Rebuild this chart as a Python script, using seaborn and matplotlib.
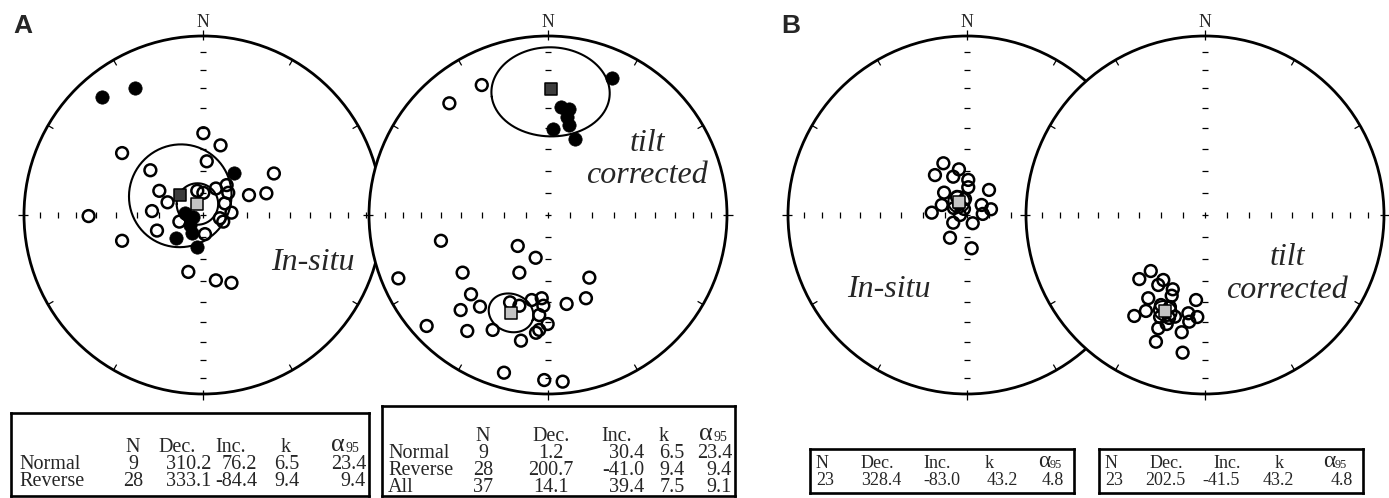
import numpy as np
import matplotlib
matplotlib.use("Agg")
import matplotlib.pyplot as plt
from matplotlib.patches import Circle
import seaborn as sns

sns.set_theme(style="white")
plt.rcParams['font.family'] = ['Liberation Serif', 'DejaVu Serif']

# ---------------- data: site directions, equal-area projection (east, north) on unit net
a_insitu_rev_e = [0.002, 0.098, -0.452, 0.021, -0.294, 0.396, 0.132, 0.072, -0.244, -0.032, 0.002, 0.141, 0.257, 0.354,
                  -0.198, 0.122, -0.285, 0.159, 0.094, 0.113, -0.132, -0.257, 0.011, -0.452, -0.082, 0.072, 0.159, -0.639]
a_insitu_rev_n = [0.457, 0.389, 0.346, 0.300, 0.250, 0.232, 0.167, 0.148, 0.135, 0.135, 0.124, 0.124, 0.111, 0.121,
                  0.071, 0.065, 0.022, 0.013, -0.018, -0.037, -0.037, -0.087, -0.107, -0.144, -0.318, -0.365, -0.379, -0.006]
a_insitu_nor_e = [-0.563, -0.378, 0.172, -0.100, -0.054, -0.072, -0.063, -0.150, -0.032]
a_insitu_nor_n = [0.661, 0.709, 0.232, 0.013, -0.009, -0.056, -0.102, -0.126, -0.179]

a_tilt_nor_e = [0.356, 0.073, 0.119, 0.104, 0.117, 0.030, 0.151]
a_tilt_nor_n = [0.767, 0.605, 0.591, 0.549, 0.503, 0.479, 0.423]
a_tilt_rev_e = [-0.370, -0.551, -0.598, -0.169, -0.069, -0.836, -0.477, -0.160, 0.231, -0.430, -0.380, -0.488, -0.212,
                -0.160, -0.091, -0.035, -0.026, -0.049, 0.104, 0.212, -0.678, -0.451, -0.309, -0.002, -0.049, -0.067,
                -0.151, -0.246, -0.021, 0.082]
a_tilt_rev_n = [0.726, 0.624, -0.144, -0.173, -0.239, -0.354, -0.322, -0.322, -0.350, -0.443, -0.512, -0.531, -0.488,
                -0.507, -0.475, -0.465, -0.507, -0.559, -0.497, -0.465, -0.620, -0.648, -0.642, -0.609, -0.642, -0.658,
                -0.702, -0.881, -0.922, -0.931]

b_insitu_e = [-0.132, -0.045, -0.179, -0.077, 0.007, 0.007, 0.123, -0.128, -0.141, 0.082, 0.134, -0.197, 0.088, -0.039,
              -0.077, 0.032, -0.095, 0.026, -0.056, -0.011, -0.073, -0.017, -0.045]
b_insitu_n = [0.289, 0.255, 0.223, 0.214, 0.196, 0.155, 0.140, 0.125, 0.056, 0.056, 0.032, 0.013, 0.006, 0.000,
              -0.043, -0.046, -0.127, -0.186, 0.101, 0.089, 0.039, 0.034, 0.061]
b_tilt_e = [-0.303, -0.367, -0.233, -0.261, -0.180, -0.186, -0.317, -0.050, -0.330, -0.395, -0.093, -0.043, -0.168,
            -0.088, -0.214, -0.261, -0.130, -0.274, -0.125, -0.246, -0.196, -0.251, -0.201]
b_tilt_n = [-0.313, -0.358, -0.363, -0.391, -0.415, -0.451, -0.465, -0.475, -0.536, -0.564, -0.549, -0.570, -0.568,
            -0.596, -0.609, -0.633, -0.655, -0.708, -0.769, -0.503, -0.514, -0.570, -0.575]

# ---------------- data: statistics tables
a_insitu_rows = ["Normal", "Reverse"]
a_insitu_N = [9, 28]
a_insitu_dec = [310.2, 333.1]
a_insitu_inc = [76.2, -84.4]
a_insitu_k = [6.5, 9.4]
a_insitu_a95 = [23.4, 9.4]

a_tilt_rows = ["Normal", "Reverse", "All"]
a_tilt_N = [9, 28, 37]
a_tilt_dec = [1.2, 200.7, 14.1]
a_tilt_inc = [30.4, -41.0, 39.4]
a_tilt_k = [6.5, 9.4, 7.5]
a_tilt_a95 = [23.4, 9.4, 9.1]

b_insitu_N, b_insitu_dec, b_insitu_inc, b_insitu_k, b_insitu_a95 = [23], [328.4], [-83.0], [43.2], [4.8]
b_tilt_N, b_tilt_dec, b_tilt_inc, b_tilt_k, b_tilt_a95 = [23], [202.5], [-41.5], [43.2], [4.8]

# ---------------- layout
W, H = 1389, 498
R = 179.0
CY = 215.0
L = 1.25
fig = plt.figure(figsize=(W / 100, H / 100), dpi=100)


def project(dec, inc):
    dec = np.radians(np.asarray(dec, float))
    inc = np.radians(np.abs(np.asarray(inc, float)))
    r = np.sqrt(2) * np.sin((np.pi / 2 - inc) / 2)
    return r * np.sin(dec), r * np.cos(dec)


def cone(dec, inc, a95, n=241):
    d, i = np.radians(dec), np.radians(inc)
    m = np.array([np.cos(i) * np.cos(d), np.cos(i) * np.sin(d), np.sin(i)])
    ref = np.array([0, 0, 1.0]) if abs(m[2]) < 0.9 else np.array([1.0, 0, 0])
    u1 = np.cross(m, ref); u1 /= np.linalg.norm(u1)
    u2 = np.cross(m, u1)
    t = np.linspace(0, 2 * np.pi, n)
    a = np.radians(a95)
    v = np.cos(a) * m[:, None] + np.sin(a) * (np.cos(t) * u1[:, None] + np.sin(t) * u2[:, None])
    inc_v = np.degrees(np.arcsin(np.clip(v[2], -1, 1)))
    dec_v = np.degrees(np.arctan2(v[1], v[0]))
    return project(dec_v, inc_v)


def net_axes(cx):
    half = L * R
    ax = fig.add_axes([(cx - half) / W, (H - CY - half) / H, 2 * half / W, 2 * half / H])
    ax.set_xlim(-L, L)
    ax.set_ylim(-L, L)
    ax.set_axis_off()
    ax.add_patch(Circle((0, 0), 1, facecolor='white', edgecolor='black', lw=2.0, zorder=1))
    kw = dict(color='black', lw=0.9, zorder=2, solid_capstyle='butt')
    for ang in range(0, 360, 30):
        a = np.radians(ang)
        s, c = np.sin(a), np.cos(a)
        r0, r1 = (0.975, 1.035) if ang % 90 == 0 else (0.965, 1.0)
        ax.plot([r0 * s, r1 * s], [r0 * c, r1 * c], **kw)
    rt = np.sqrt(2) * np.sin(np.radians(90 - np.arange(10, 90, 10)) / 2)
    h = 0.018
    for r in rt:
        for sg in (-1, 1):
            ax.plot([sg * r, sg * r], [-h, h], **kw)
            ax.plot([-h, h], [sg * r, sg * r], **kw)
    ax.plot([-h, h], [0, 0], **kw)
    ax.plot([0, 0], [-h, h], **kw)
    ax.text(0, 1.052, 'N', ha='center', va='baseline', fontsize=12.7)
    return ax


def open_pts(ax, e, n):
    sns.scatterplot(x=e, y=n, ax=ax, s=72, color='black', facecolor='none', edgecolor='black',
                    linewidth=1.8, marker='o', zorder=4, legend=False)


def filled_pts(ax, e, n):
    sns.scatterplot(x=e, y=n, ax=ax, s=92, color='black', edgecolor='black', linewidth=0.5,
                    marker='o', zorder=4, legend=False)


def mean_sq(ax, dec, inc, a95, fill):
    ce, cn = cone(dec, inc, a95)
    ax.plot(ce, cn, color='black', lw=1.5, zorder=3)
    me, mn = project([dec], [inc])
    sns.scatterplot(x=me, y=mn, ax=ax, s=84, marker='s', color=fill, edgecolor='black',
                    linewidth=1.1, zorder=5, legend=False)


def finish(ax):
    ax.set_xlim(-L, L)
    ax.set_ylim(-L, L)
    ax.set_axis_off()


lab = dict(style='italic', fontsize=23, ha='center', va='center')

# A in-situ
ax1 = net_axes(203)
open_pts(ax1, a_insitu_rev_e, a_insitu_rev_n)
filled_pts(ax1, a_insitu_nor_e, a_insitu_nor_n)
mean_sq(ax1, a_insitu_dec[0], a_insitu_inc[0], a_insitu_a95[0], '#3d3d3d')
mean_sq(ax1, a_insitu_dec[1], a_insitu_inc[1], a_insitu_a95[1], '#c4c4c4')
ax1.text(0.615, -0.263, 'In-situ', **lab)
finish(ax1)

# A tilt corrected
ax2 = net_axes(548)
open_pts(ax2, a_tilt_rev_e, a_tilt_rev_n)
filled_pts(ax2, a_tilt_nor_e, a_tilt_nor_n)
mean_sq(ax2, a_tilt_dec[0], a_tilt_inc[0], a_tilt_a95[0], '#3d3d3d')
mean_sq(ax2, a_tilt_dec[1], a_tilt_inc[1], a_tilt_a95[1], '#c4c4c4')
ax2.text(0.553, 0.402, 'tilt', **lab)
ax2.text(0.553, 0.223, 'corrected', **lab)
finish(ax2)

# B in-situ
ax3 = net_axes(967)
open_pts(ax3, b_insitu_e, b_insitu_n)
mean_sq(ax3, b_insitu_dec[0], b_insitu_inc[0], b_insitu_a95[0], '#c4c4c4')
ax3.text(-0.436, -0.415, 'In-situ', **lab)
finish(ax3)

# B tilt corrected
ax4 = net_axes(1205)
open_pts(ax4, b_tilt_e, b_tilt_n)
mean_sq(ax4, b_tilt_dec[0], b_tilt_inc[0], b_tilt_a95[0], '#c4c4c4')
ax4.text(0.458, -0.237, 'tilt', **lab)
ax4.text(0.458, -0.420, 'corrected', **lab)
finish(ax4)

# panel letters
fig.text(23 / W, 1 - 26 / H, 'A', family='Liberation Sans', weight='bold', fontsize=19, ha='center', va='center')
fig.text(791 / W, 1 - 26 / H, 'B', family='Liberation Sans', weight='bold', fontsize=19, ha='center', va='center')


# ---------------- tables
def box(x0, y0, x1, y1):
    ax = fig.add_axes([x0 / W, 1 - y1 / H, (x1 - x0) / W, (y1 - y0) / H])
    ax.set_xlim(x0, x1)
    ax.set_ylim(y1, y0)
    ax.set_xticks([])
    ax.set_yticks([])
    for sp in ax.spines.values():
        sp.set_visible(True)
        sp.set_linewidth(1.9)
        sp.set_color('black')
    return ax


def table(ax, ys, rows, Ns, decs, incs, ks, a95s, cols, fs):
    lx, nx, nha, dh, dv, ih, iv, iha, kh, kv, asplit, av = cols
    off = fs * 0.33

    def t(x, y, s, ha='center'):
        ax.text(x, y + off, s, ha=ha, va='baseline', fontsize=fs)

    y0 = ys[0]
    t(nx, y0, 'N', nha)
    t(dh, y0, 'Dec.')
    t(ih, y0, 'Inc.')
    t(kh, y0, 'k')
    ax.text(asplit, y0 + off - 1, 'α', ha='right', va='baseline', fontsize=fs * 1.3)
    ax.text(asplit, y0 + off, '95', ha='left', va='baseline', fontsize=fs * 0.68)
    for j in range(len(Ns)):
        y = ys[j + 1]
        if rows is not None:
            t(lx, y, rows[j], 'left')
        t(nx, y, str(Ns[j]), nha)
        t(dv, y, f'{decs[j]:.1f}')
        t(iv, y, f'{incs[j]:.1f}', iha)
        t(kv, y, f'{ks[j]:.1f}')
        t(av, y, f'{a95s[j]:.1f}', 'right')


tb1 = box(11, 413, 369, 496)
table(tb1, [447, 464, 481], a_insitu_rows, a_insitu_N, a_insitu_dec, a_insitu_inc, a_insitu_k, a_insitu_a95,
      (19, 133, 'center', 177, 189, 231, 257, 'right', 286, 287, 345, 366), 14.5)

tb2 = box(382, 406, 735, 496)
table(tb2, [436, 453, 470, 487], a_tilt_rows, a_tilt_N, a_tilt_dec, a_tilt_inc, a_tilt_k, a_tilt_a95,
      (388, 483, 'center', 551, 551, 617, 644, 'right', 664, 672, 713, 732), 14.5)

tb3 = box(810, 449, 1074, 493)
table(tb3, [464, 481], None, b_insitu_N, b_insitu_dec, b_insitu_inc, b_insitu_k, b_insitu_a95,
      (0, 816, 'left', 877, 881, 937, 942, 'center', 989, 1002, 1050, 1064), 13)

tb4 = box(1099, 449, 1363, 493)
table(tb4, [464, 481], None, b_tilt_N, b_tilt_dec, b_tilt_inc, b_tilt_k, b_tilt_a95,
      (0, 1105, 'left', 1166, 1165, 1227, 1221, 'center', 1279, 1278, 1335, 1353), 13)

fig.savefig('out.png', dpi=100)
